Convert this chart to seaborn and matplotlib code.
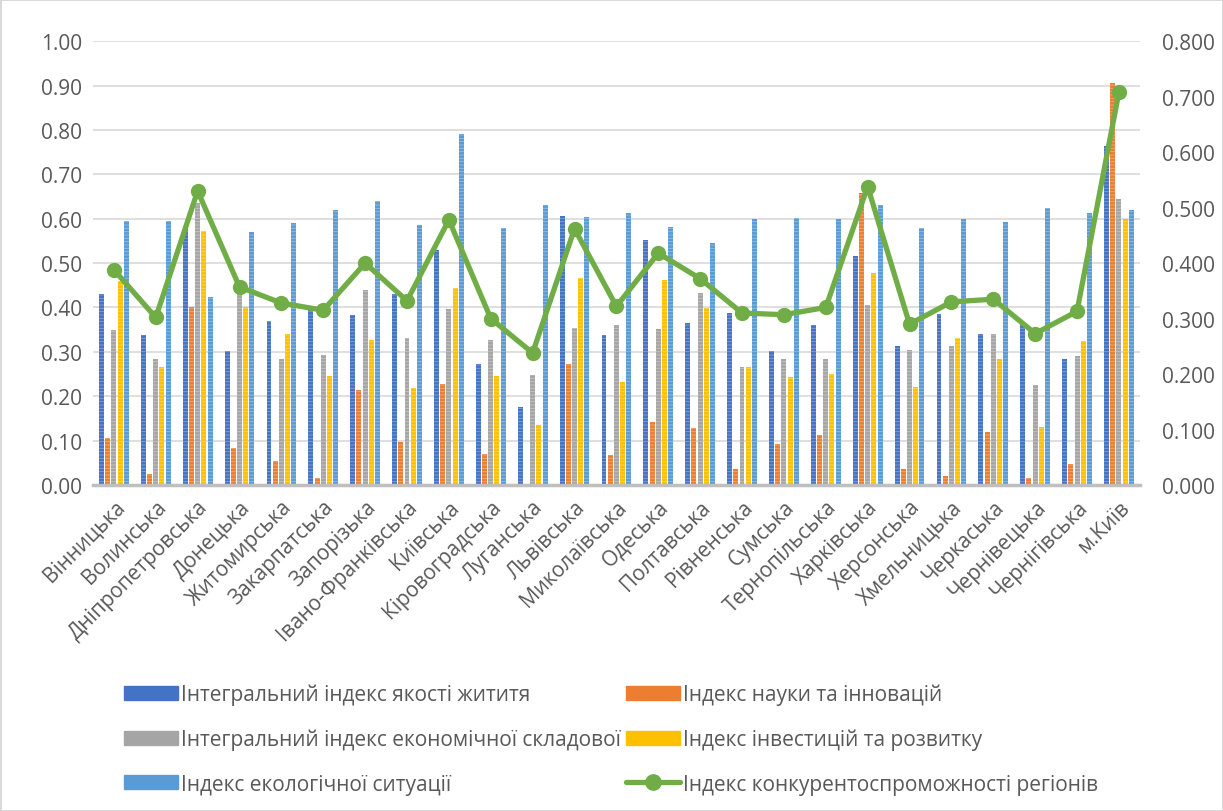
import matplotlib
matplotlib.use("Agg")
import matplotlib.pyplot as plt
import numpy as np
import pandas as pd
import seaborn as sns
from matplotlib.colors import to_rgb

sns.set_theme(style="white")
plt.rcParams["font.family"] = ["Open Sans", "DejaVu Sans"]
plt.rcParams["hatch.linewidth"] = 0.6

REGIONS = [
    "Вінницька", "Волинська", "Дніпропетровська", "Донецька", "Житомирська",
    "Закарпатська", "Запорізька", "Івано-Франківська", "Київська", "Кіровоградська",
    "Луганська", "Львівська", "Миколаївська", "Одеська", "Полтавська",
    "Рівненська", "Сумська", "Тернопільська", "Харківська", "Херсонська",
    "Хмельницька", "Черкаська", "Чернівецька", "Чернігівська", "м.Київ",
]

LIFE = [0.430, 0.337, 0.580, 0.303, 0.370, 0.395, 0.383, 0.430, 0.530, 0.273,
        0.175, 0.607, 0.338, 0.553, 0.365, 0.388, 0.303, 0.360, 0.517, 0.313,
        0.385, 0.340, 0.365, 0.285, 0.765]
SCIENCE = [0.105, 0.025, 0.402, 0.083, 0.055, 0.015, 0.215, 0.097, 0.228, 0.070,
           0.002, 0.273, 0.068, 0.143, 0.128, 0.037, 0.093, 0.113, 0.657, 0.035,
           0.020, 0.120, 0.015, 0.047, 0.905]
ECONOMY = [0.350, 0.285, 0.635, 0.435, 0.285, 0.293, 0.440, 0.332, 0.397, 0.327,
           0.247, 0.353, 0.360, 0.352, 0.432, 0.265, 0.285, 0.285, 0.405, 0.305,
           0.313, 0.340, 0.225, 0.290, 0.645]
INVEST = [0.460, 0.265, 0.573, 0.400, 0.340, 0.245, 0.327, 0.218, 0.443, 0.245,
          0.135, 0.467, 0.232, 0.463, 0.398, 0.265, 0.243, 0.250, 0.478, 0.220,
          0.332, 0.285, 0.130, 0.325, 0.600]
ECOLOGY = [0.595, 0.595, 0.423, 0.570, 0.590, 0.620, 0.640, 0.585, 0.790, 0.580,
           0.630, 0.603, 0.612, 0.582, 0.545, 0.600, 0.602, 0.600, 0.630, 0.580,
           0.600, 0.592, 0.625, 0.613, 0.620]
COMPETITIVE = [0.388, 0.302, 0.530, 0.357, 0.328, 0.315, 0.400, 0.332, 0.478, 0.300,
               0.238, 0.462, 0.322, 0.418, 0.372, 0.310, 0.307, 0.320, 0.538, 0.290,
               0.330, 0.335, 0.273, 0.313, 0.708]

BAR_SERIES = [
    "Інтегральний індекс якості жититя",
    "Індекс науки та інновацій",
    "Інтегральний індекс економічної складової",
    "Індекс інвестицій та розвитку",
    "Індекс екологічної ситуації",
]
LINE_SERIES = "Індекс конкурентоспроможності регіонів"
BAR_COLORS = ["#4472C4", "#ED7D31", "#A5A5A5", "#FFC000", "#5B9BD5"]
LINE_COLOR = "#70AD47"
TEXT_COLOR = "#595959"

bars_df = pd.DataFrame({
    "region": REGIONS * 5,
    "series": np.repeat(BAR_SERIES, len(REGIONS)),
    "value": LIFE + SCIENCE + ECONOMY + INVEST + ECOLOGY,
})

fig = plt.figure(figsize=(12.23, 8.12), dpi=100)
fig.patch.set_edgecolor("#D9D9D9")
fig.patch.set_linewidth(2)
ax = fig.add_axes([0.076, 0.4015, 0.856, 0.5465])

sns.barplot(data=bars_df, x="region", y="value", hue="series", hue_order=BAR_SERIES,
            palette=BAR_COLORS, width=0.74, gap=0.2, ax=ax, legend=False,
            saturation=1, order=REGIONS)

# Excel-like striped texture on the bars
for container, color in zip(ax.containers, BAR_COLORS):
    r, g, b = to_rgb(color)
    light = (r + (1 - r) * 0.35, g + (1 - g) * 0.35, b + (1 - b) * 0.35)
    for patch in container:
        patch.set_hatch("-----")
        patch.set_edgecolor(light)
        patch.set_linewidth(0)

ax.set_ylim(0, 1.0)
ax.set_yticks(np.arange(0, 1.01, 0.1))
ax.set_yticklabels([f"{v:.2f}" for v in np.arange(0, 1.01, 0.1)])
ax.set_xlim(-0.5, len(REGIONS) - 0.5)
ax.yaxis.grid(True, color="#D9D9D9", linewidth=1.2)
ax.set_axisbelow(True)
ax.set_xlabel("")
ax.set_ylabel("")
for side in ["top", "right", "left"]:
    ax.spines[side].set_visible(False)
ax.spines["bottom"].set_color("#BFBFBF")
ax.spines["bottom"].set_linewidth(2.5)
ax.tick_params(axis="both", length=0, labelsize=15, colors=TEXT_COLOR, pad=8)
ax.set_xticks(range(len(REGIONS)))
ax.set_xticklabels(REGIONS, rotation=45, ha="right", rotation_mode="anchor")

ax2 = ax.twinx()
sns.lineplot(x=np.arange(len(REGIONS)), y=COMPETITIVE, ax=ax2, color=LINE_COLOR,
             linewidth=3.8, marker="o", markersize=11, markeredgewidth=0,
             sort=False, legend=False)
ax2.set_ylim(0, 0.8)
ax2.set_yticks(np.arange(0, 0.81, 0.1))
ax2.set_yticklabels([f"{v:.3f}" for v in np.arange(0, 0.81, 0.1)])
ax2.tick_params(axis="y", length=0, labelsize=15, colors=TEXT_COLOR, pad=16)
ax2.grid(False)
for side in ["top", "right", "left", "bottom"]:
    ax2.spines[side].set_visible(False)

# legend: two columns, row-major order as in the original
handles = [matplotlib.patches.Patch(facecolor=c, edgecolor=c, label=s)
           for s, c in zip(BAR_SERIES, BAR_COLORS)]
line_handle = matplotlib.lines.Line2D([], [], color=LINE_COLOR, linewidth=3.8,
                                      marker="o", markersize=11, label=LINE_SERIES)
ordered = [handles[0], handles[2], handles[4], handles[1], handles[3], line_handle]
fig.legend(handles=ordered, labels=[h.get_label() for h in ordered], ncol=2,
           loc="upper left", bbox_to_anchor=(0.101, 0.157), frameon=False,
           fontsize=15, labelcolor=TEXT_COLOR, handlelength=2.6, handleheight=0.65,
           handletextpad=0.15, columnspacing=0.25, labelspacing=1.13,
           borderaxespad=0, borderpad=0)

fig.savefig("out.png", dpi=100)
